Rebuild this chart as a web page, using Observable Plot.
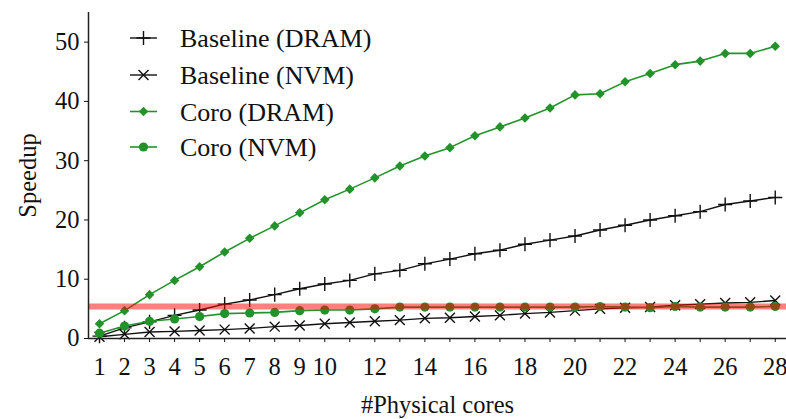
<!DOCTYPE html>
<html><head><meta charset="utf-8">
<script src="https://cdn.jsdelivr.net/npm/d3@7"></script>
<script src="https://cdn.jsdelivr.net/npm/@observablehq/plot@0.6"></script>
<style>
body{margin:0;background:#fff;}
#wrap{position:relative;width:786px;height:419px;font-family:"Liberation Serif",serif;}
#legend{position:absolute;left:0;top:0;pointer-events:none;}
</style></head><body><div id="wrap"></div>
<script>
const cores = [1,2,3,4,5,6,7,8,9,10,11,12,13,14,15,16,17,18,19,20,21,22,23,24,25,26,27,28];
const xTickLabels = [1,2,3,4,5,6,7,8,9,10,12,14,16,18,20,22,24,26,28];
const yTicks = [0,10,20,30,40,50];
const baselineDram = [0.4,1.8,2.8,3.9,4.8,5.8,6.5,7.4,8.4,9.2,9.8,10.9,11.5,12.6,13.4,14.3,14.9,15.9,16.6,17.3,18.3,19.1,20.0,20.7,21.4,22.6,23.2,23.8];
const baselineNvm = [0.3,0.7,1.1,1.2,1.35,1.5,1.7,2.0,2.2,2.5,2.7,2.9,3.1,3.4,3.5,3.7,3.9,4.2,4.4,4.7,5.0,5.2,5.3,5.6,5.8,6.0,6.1,6.4];
const coroDram = [2.5,4.7,7.4,9.8,12.1,14.6,16.9,19.0,21.2,23.4,25.2,27.1,29.1,30.8,32.2,34.2,35.7,37.2,38.9,41.1,41.3,43.3,44.7,46.2,46.8,48.1,48.1,49.3];
const coroNvm = [0.9,2.1,2.9,3.3,3.7,4.2,4.3,4.4,4.7,4.8,4.8,5.0,5.3,5.3,5.3,5.3,5.3,5.3,5.3,5.3,5.4,5.3,5.2,5.4,5.3,5.3,5.3,5.4];
const threshold = [5.4];
const seriesNames = ["Baseline (DRAM)","Baseline (NVM)","Coro (DRAM)","Coro (NVM)"];

const GREEN = "#22932a", BLACK = "#111";
const styles = [
  {color: BLACK, symbol: "plus", r: 4.6, filled: false, lw: 1.4},
  {color: BLACK, symbol: "times", r: 4.6, filled: false, lw: 1.4},
  {color: GREEN, symbol: "diamond2", r: 4.3, filled: true, lw: 1.6},
  {color: GREEN, symbol: "circle", r: 4.6, filled: true, lw: 1.6}
];
const allValues = [baselineDram, baselineNvm, coroDram, coroNvm];
const data = allValues.map(vals => cores.map((c, i) => ({x: c, y: vals[i]})));

const W = 786, H = 419, mL = 88, mR = 0, mT = 12, mB = 81;
const xDomain = [0.56, 28.45];

const marks = [];
data.forEach((d, k) => {
  const s = styles[k];
  marks.push(Plot.line(d, {x: "x", y: "y", stroke: s.color, strokeWidth: s.lw}));
  marks.push(Plot.dot(d, {x: "x", y: "y", symbol: () => s.symbol, r: s.r,
    fill: s.filled ? s.color : "none", stroke: s.filled ? "none" : s.color, strokeWidth: 1.4}));
});
marks.push(Plot.ruleY(threshold, {stroke: "red", strokeOpacity: 0.5, strokeWidth: 6}));
marks.push(Plot.ruleY([0], {stroke: "#222", strokeWidth: 1.5}));
marks.push(Plot.ruleX([xDomain[0]], {stroke: "#222", strokeWidth: 1.5}));
marks.push(Plot.axisX({ticks: cores, tickSize: 4, tickPadding: 15,
  tickFormat: d => xTickLabels.includes(d) ? String(d) : "",
  label: "#Physical cores", labelAnchor: "center", labelArrow: "none", labelOffset: 74, fontSize: 24.5}));
marks.push(Plot.axisY({ticks: yTicks, tickSize: 4, tickPadding: 5,
  label: "Speedup", labelAnchor: "center", labelArrow: "none", labelOffset: 70, fontSize: 24.5}));

const chart = Plot.plot({
  width: W, height: H, marginLeft: mL, marginRight: mR, marginTop: mT, marginBottom: mB,
  style: {fontFamily: "Liberation Serif, serif", fontSize: "24.5px", color: "#111", background: "#fff", overflow: "visible"},
  x: {domain: xDomain},
  y: {domain: [0, 55]},
  symbol: {type: "identity"},
  marks
});
const wrap = document.getElementById("wrap");
wrap.appendChild(chart);

// legend overlay
const leg = d3.select(wrap).append("svg").attr("id", "legend").attr("width", W).attr("height", H);
const rowY = [38, 75, 111.5, 147];
const symMap = {plus: d3.symbolPlus, times: d3.symbolTimes, diamond2: d3.symbolDiamond2, circle: d3.symbolCircle};
seriesNames.forEach((name, k) => {
  const s = styles[k], y = rowY[k];
  const g = leg.append("g");
  g.append("line").attr("x1", 130).attr("x2", 157).attr("y1", y).attr("y2", y)
    .attr("stroke", s.color).attr("stroke-width", s.lw);
  g.append("path").attr("transform", `translate(143.5,${y})`)
    .attr("d", d3.symbol(symMap[s.symbol], Math.PI * s.r * s.r)())
    .attr("fill", s.filled ? s.color : "none").attr("stroke", s.filled ? "none" : s.color).attr("stroke-width", 1.4);
  g.append("text").attr("x", 180).attr("y", y).attr("dy", "0.35em")
    .attr("font-family", "Liberation Serif, serif").attr("font-size", 26).attr("fill", "#111").text(name);
});
</script></body></html>
